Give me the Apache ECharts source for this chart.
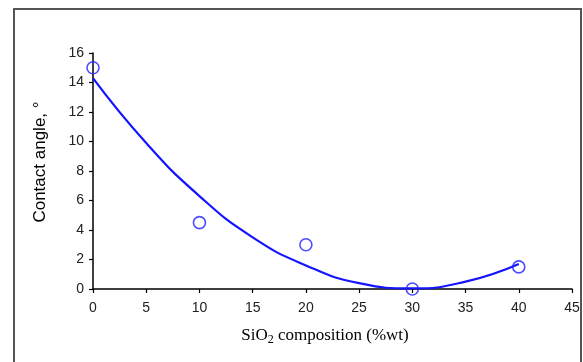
<!DOCTYPE html>
<html><head><meta charset="utf-8">
<script src="https://cdn.jsdelivr.net/npm/echarts@6/dist/echarts.min.js"></script>
<style>html,body{margin:0;padding:0;background:#fff}#c{width:583px;height:362px}</style>
</head><body><div id="c"></div>
<script>
const pointX = [0, 10, 20, 30, 40];
const pointY = [15, 4.5, 3, 0, 1.5];
const curveX = [0, 5, 10, 15, 20, 25, 30, 35, 40];
const curveY = [14.3, 9.9, 6.3, 3.5, 1.6, 0.4, 0.04, 0.5, 1.7];

const chart = echarts.init(document.getElementById('c'));
const tickFont = {fontFamily: 'Liberation Sans, Arial, sans-serif', fontSize: 14, color: '#222'};
chart.setOption({
  animation: false,
  grid: {left: 93, right: 11, top: 53, bottom: 73},
  xAxis: {
    type: 'value', min: 0, max: 45, interval: 5,
    axisLine: {lineStyle: {color: '#000', width: 1.5}},
    axisTick: {show: true, length: 4, lineStyle: {color: '#000', width: 1.2}},
    axisLabel: Object.assign({margin: 12}, tickFont),
    splitLine: {show: false}
  },
  yAxis: {
    type: 'value', min: 0, max: 16, interval: 2,
    axisLine: {show: true, lineStyle: {color: '#000', width: 1.5}},
    axisTick: {show: true, length: 4, lineStyle: {color: '#000', width: 1.2}},
    axisLabel: Object.assign({margin: 9}, tickFont),
    splitLine: {show: false}
  },
  graphic: [
    {type: 'rect', shape: {x: 14, y: 9, width: 567, height: 400},
     style: {fill: 'none', stroke: '#555', lineWidth: 2}, silent: true},
    {type: 'text', x: 40, y: 162, rotation: Math.PI / 2,
     style: {text: 'Contact angle, °', font: '17px "Liberation Sans", Arial, sans-serif',
       fill: '#000', align: 'center', verticalAlign: 'middle'}},
    {type: 'text', x: 325, y: 336,
     style: {text: 'SiO{s|2} composition (%wt)',
       font: '17px "Liberation Serif", "Times New Roman", serif',
       fill: '#000', align: 'center', verticalAlign: 'middle',
       rich: {s: {font: '12px "Liberation Serif", serif', verticalAlign: 'bottom', padding: [8, 0, 0, 0]}}}}
  ],
  series: [
    {type: 'line', data: curveX.map((x, i) => [x, curveY[i]]), smooth: 0.5,
     showSymbol: false, lineStyle: {color: '#1414ff', width: 2.2}, z: 2},
    {type: 'scatter', data: pointX.map((x, i) => [x, pointY[i]]), symbol: 'circle',
     symbolSize: 12, clip: false,
     itemStyle: {color: 'rgba(0,0,0,0)', borderColor: '#2020ff', borderWidth: 1.6}, z: 3}
  ]
});
</script></body></html>
